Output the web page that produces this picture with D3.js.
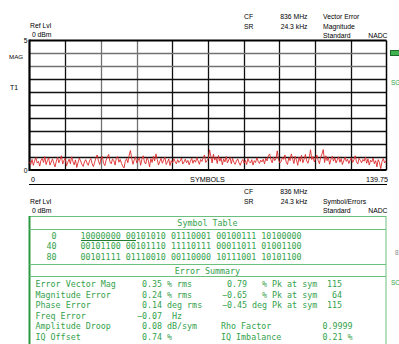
<!DOCTYPE html>
<html><head><meta charset="utf-8">
<script src="https://cdn.jsdelivr.net/npm/d3@7"></script>
<style>html,body{margin:0;padding:0;background:#fff;}svg{display:block;}</style>
</head><body><svg id="c" width="399" height="344"></svg>
<script>
// Vector error magnitude trace (%), two samples per symbol
const evm = [
  0.30,0.22,0.41,0.18,0.35,0.48,0.27,0.33,0.15,0.38,0.44,0.29,0.52,0.21,0.36,0.47,0.19,0.31,0.43,0.26,
  0.12,0.34,0.49,0.28,0.40,0.55,0.23,0.37,0.45,0.16,0.30,0.42,0.24,0.51,0.33,0.20,0.39,0.10,0.28,0.46,
  0.35,0.22,0.14,0.31,0.40,0.27,0.18,0.36,0.44,0.25,0.13,0.29,0.48,0.58,0.34,0.21,0.45,0.53,0.26,0.17,
  0.38,0.50,0.60,0.31,0.24,0.43,0.36,0.19,0.47,0.52,0.30,0.41,0.26,0.15,0.08,0.33,0.44,0.28,0.57,0.75,
  0.46,0.22,0.39,0.51,0.27,0.36,0.48,0.18,0.42,0.55,0.31,0.23,0.47,0.38,0.12,0.44,0.29,0.53,0.35,0.62,
  0.41,0.19,0.33,0.45,0.26,0.38,0.49,0.21,0.30,0.43,0.17,0.36,0.27,0.44,0.32,0.24,0.40,0.29,0.35,0.46,
  0.23,0.31,0.42,0.28,0.37,0.20,0.34,0.45,0.26,0.39,0.30,0.48,0.35,0.22,0.41,0.33,0.47,0.58,0.29,0.36,
  0.44,0.78,0.52,0.27,0.61,0.38,0.49,0.25,0.56,0.34,0.46,0.20,0.43,0.31,0.52,0.27,0.39,0.48,0.24,0.45,
  0.30,0.22,0.35,0.43,0.28,0.18,0.33,0.41,0.26,0.37,0.21,0.44,0.32,0.27,0.40,0.19,0.36,0.29,0.47,0.34,
  0.25,0.38,0.31,0.42,0.23,0.46,0.35,0.55,0.62,0.40,0.28,0.50,0.36,0.45,0.74,0.39,0.27,0.33,0.48,0.41,
  0.58,0.30,0.21,0.47,0.36,0.62,0.44,0.25,0.53,0.39,0.18,0.49,0.33,0.57,0.28,0.42,0.60,0.35,0.26,0.46,
  0.78,0.40,0.52,0.31,0.45,0.58,0.37,0.24,0.50,0.62,0.79,0.29,0.55,0.36,0.48,0.22,0.41,0.53,0.34,0.47,
  0.27,0.39,0.51,0.30,0.44,0.21,0.36,0.49,0.33,0.42,0.25,0.38,0.47,0.29,0.40,0.55,0.32,0.23,0.45,0.37,
  0.28,0.41,0.34,0.50,0.26,0.43,0.19,0.38,0.31,0.46,0.24,0.36,0.12,0.40,0.29,0.05,0.33,0.44,0.27,0.35
];
const symbolStep = 0.5;
const xMax = 139.75;
const yMax = 5;
const yTickLabels = ["5", "0"];
const xAxisLabels = ["0", "SYMBOLS", "139.75"];

// instrument settings header
const headerLeft = ["Ref Lvl", " 0 dBm"];
const headerKeys = ["CF", "SR"];
const headerVals = ["836 MHz", "24.3 kHz"];
const traceTitle = ["Vector Error", "Magnitude"];
const tableTitle = ["", "Symbol/Errors"];
const standardName = ["Standard", "NADC"];

// demodulated symbol table
const tableRowLabels = ["0", "40", "80"];
const tableRows = [
  "10000000 00101010 01110001 00100111 10100000",
  "00101100 00101110 11110111 00011011 01001100",
  "00101111 01110010 00110000 10111001 10101100"
];

// error summary
const summaryLabels = ["Error Vector Mag", "Magnitude Error", "Phase Error", "Freq Error", "Amplitude Droop", "IQ Offset"];
const summaryValues = ["0.35", "0.24", "0.14", "\u22120.07", "0.08", "0.74"];
const summaryUnits = ["% rms", "% rms", "deg rms", " Hz", "dB/sym", "%"];
const peakValues = ["0.79", "\u22120.65", "\u22120.45"];
const peakUnits = ["%", "%", "deg"];
const peakSymbols = ["115", "64", "115"];
const extraLabels = ["Rho Factor", "IQ Imbalance"];
const extraValues = ["0.9999", "0.21 %"];

const svg = d3.select("#c");
const SANS = "'Liberation Sans', Arial, sans-serif";
const MONO = "'DejaVu Sans Mono', monospace";
const GREEN = "#34a24c";
const GREEN_LINE = "#6cc07e";

const x = d3.scaleLinear().domain([0, xMax]).range([29.5, 386.5]);
const y = d3.scaleLinear().domain([0, yMax]).range([170, 40.5]);

function txt(g, s, px, py, opt = {}) {
  return g.append("text").attr("x", px).attr("y", py)
    .attr("font-family", opt.font || SANS)
    .attr("font-size", opt.size || 6.8)
    .attr("fill", opt.fill || "#000")
    .attr("text-anchor", opt.anchor || "start")
    .attr("xml:space", "preserve")
    .text(s);
}

// ---- upper header ----
const hdr = svg.append("g");
txt(hdr, headerLeft[0], 30, 27.5);
txt(hdr, headerLeft[1], 30, 36.5);
txt(hdr, headerKeys[0], 244, 18.5);
txt(hdr, headerKeys[1], 244, 28.5);
txt(hdr, headerVals[0], 307.5, 18.5, {anchor: "end"});
txt(hdr, headerVals[1], 307.5, 28.5, {anchor: "end"});
txt(hdr, traceTitle[0], 323, 19);
txt(hdr, traceTitle[1], 323, 28.5);
txt(hdr, standardName[0], 323, 38);
txt(hdr, standardName[1], 387.5, 38, {anchor: "end"});

// ---- trace panel ----
const plot = svg.append("g");
const xGrid = d3.range(0, 11).map(i => i * xMax / 10);
const yGrid = d3.range(0, 11).map(i => i * yMax / 10);
const greyV = new Set([2, 3]);
const greyH = new Set([8, 9]);

plot.selectAll("line.gv").data(xGrid.slice(1, 10)).join("line")
  .attr("x1", d => Math.round(x(d)) + 0.5).attr("x2", d => Math.round(x(d)) + 0.5)
  .attr("y1", y(yMax)).attr("y2", y(0))
  .attr("stroke", (d, i) => greyV.has(i + 1) ? "#727272" : "#111")
  .attr("stroke-width", 1.3);
plot.selectAll("line.gh").data(yGrid.slice(1, 10)).join("line")
  .attr("x1", x(0)).attr("x2", x(xMax))
  .attr("y1", d => Math.round(y(d)) + 0.5).attr("y2", d => Math.round(y(d)) + 0.5)
  .attr("stroke", (d, i) => greyH.has(i + 1) ? "#727272" : "#111")
  .attr("stroke-width", 1.3);

// frame
plot.append("line").attr("x1", x(0)).attr("x2", x(0)).attr("y1", y(yMax) - 1).attr("y2", y(0) + 1)
  .attr("stroke", "#000").attr("stroke-width", 2.2);
plot.append("line").attr("x1", x(0)).attr("x2", x(xMax)).attr("y1", y(yMax)).attr("y2", y(yMax))
  .attr("stroke", "#000").attr("stroke-width", 2);
plot.append("line").attr("x1", x(0)).attr("x2", x(xMax)).attr("y1", y(0)).attr("y2", y(0))
  .attr("stroke", "#000").attr("stroke-width", 2);
plot.append("line").attr("x1", x(xMax)).attr("x2", x(xMax)).attr("y1", y(yMax)).attr("y2", y(0))
  .attr("stroke", "#000").attr("stroke-width", 1.5);

// trace
const line = d3.line().x((d, i) => x(i * symbolStep)).y(d => y(d));
plot.append("path").datum(evm).attr("d", line)
  .attr("fill", "none").attr("stroke", "#dd2b2b").attr("stroke-width", 0.9)
  .attr("stroke-linejoin", "round");

// y labels
txt(plot, yTickLabels[0], 27.5, 43, {anchor: "end"});
txt(plot, yTickLabels[1], 27.5, 172.5, {anchor: "end"});
txt(plot, "MAG", 9, 58.5, {size: 6.2});
txt(plot, "T1", 10, 89.5, {size: 6.8});

// x labels
txt(plot, xAxisLabels[0], 31, 181.5, {size: 7.2});
txt(plot, xAxisLabels[1], 207.5, 181.5, {size: 7.2, anchor: "middle"});
txt(plot, xAxisLabels[2], 388, 181.5, {size: 7.2, anchor: "end"});
plot.append("line").attr("x1", 29).attr("x2", 387).attr("y1", 184.5).attr("y2", 184.5)
  .attr("stroke", "#000").attr("stroke-width", 1);

// side markers
svg.append("rect").attr("x", 390.5).attr("y", 50.5).attr("width", 9).attr("height", 5)
  .attr("fill", "#3fb24f").attr("stroke", "#1d6b2a").attr("stroke-width", 1);
txt(svg, "SG", 391, 84.5, {fill: GREEN, size: 6.5});
txt(svg, "8", 395, 254.5, {fill: "#888", size: 6.5});
txt(svg, "SC", 391, 284.5, {fill: GREEN, size: 6.5});

// ---- lower header ----
const hdr2 = svg.append("g");
txt(hdr2, headerLeft[0], 30, 203.5);
txt(hdr2, headerLeft[1], 30, 212.5);
txt(hdr2, headerKeys[0], 244, 193.5);
txt(hdr2, headerKeys[1], 244, 203.5);
txt(hdr2, headerVals[0], 307.5, 193.5, {anchor: "end"});
txt(hdr2, headerVals[1], 307.5, 203.5, {anchor: "end"});
txt(hdr2, tableTitle[1], 323, 203.5);
txt(hdr2, standardName[0], 323, 213);
txt(hdr2, standardName[1], 387.5, 213, {anchor: "end"});

// ---- symbol table / error summary box ----
const box = svg.append("g");
box.append("rect").attr("x", 29.5).attr("y", 216.5).attr("width", 356.5).attr("height", 140)
  .attr("fill", "none").attr("stroke", GREEN_LINE).attr("stroke-width", 1);
box.append("line").attr("x1", 29.5).attr("x2", 29.5).attr("y1", 216).attr("y2", 344)
  .attr("stroke", "#2a9a40").attr("stroke-width", 2);
[229.5, 264.5, 276.5].forEach(yy =>
  box.append("line").attr("x1", 29.5).attr("x2", 386).attr("y1", yy).attr("y2", yy)
    .attr("stroke", GREEN_LINE).attr("stroke-width", 1));

const MS = 8.36;
const mono = {font: MONO, size: MS, fill: GREEN};
txt(box, "Symbol Table", 207.5, 225.5, Object.assign({}, mono, {anchor: "middle"}));
txt(box, "Error Summary", 207.5, 273.5, Object.assign({}, mono, {anchor: "middle"}));

const rowY = d3.scaleLinear().domain([0, 1]).range([238.5, 249.2]);
tableRows.forEach((r, i) => {
  txt(box, tableRowLabels[i], 56.5, rowY(i), Object.assign({}, mono, {anchor: "end"}));
  txt(box, r, 80.5, rowY(i), mono);
});
// first symbol marker
box.append("line").attr("x1", 81).attr("x2", 136).attr("y1", 240.5).attr("y2", 240.5)
  .attr("stroke", "#1f7a30").attr("stroke-width", 1);

const sumY = d3.scaleLinear().domain([0, 1]).range([287, 297.55]);
summaryLabels.forEach((l, i) => {
  txt(box, l, 35.5, sumY(i), mono);
  txt(box, summaryValues[i], 162, sumY(i), Object.assign({}, mono, {anchor: "end"}));
  txt(box, summaryUnits[i], 167, sumY(i), mono);
});
peakValues.forEach((v, i) => {
  txt(box, v, 247, sumY(i), Object.assign({}, mono, {anchor: "end"}));
  txt(box, peakUnits[i], 267, sumY(i), Object.assign({}, mono, {anchor: "end"}));
  txt(box, "Pk at sym", 272, sumY(i), mono);
  txt(box, peakSymbols[i], 342, sumY(i), Object.assign({}, mono, {anchor: "end"}));
});
extraLabels.forEach((l, i) => {
  txt(box, l, 221, sumY(i + 4), mono);
  txt(box, extraValues[i], 322.5, sumY(i + 4), mono);
});
</script>
</body></html>
